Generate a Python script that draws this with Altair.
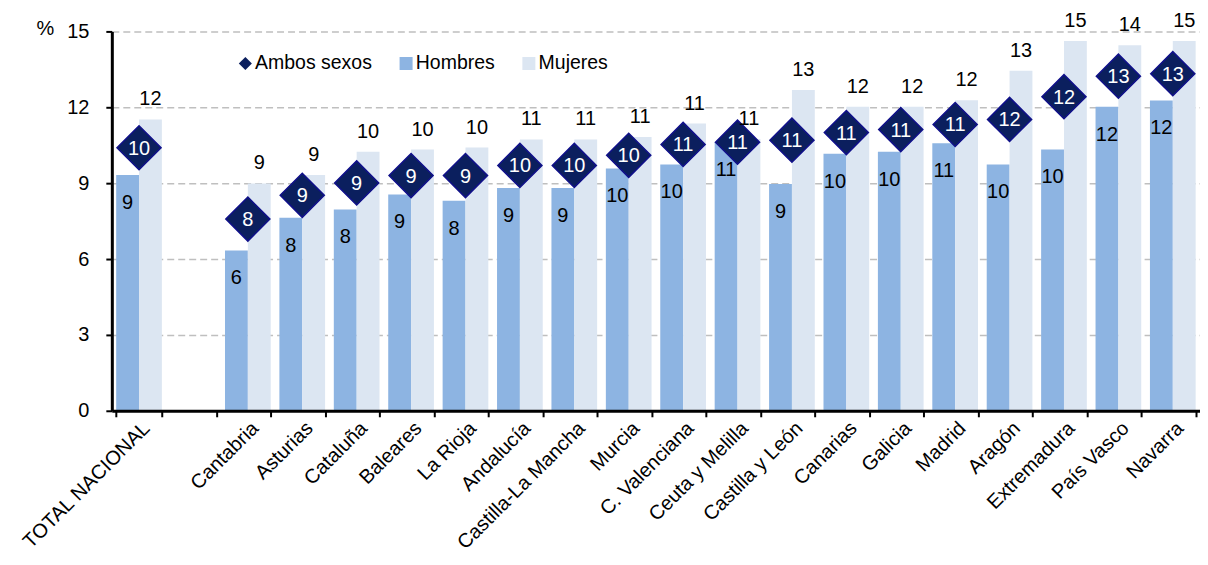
import altair as alt
import pandas as pd

regions = ["TOTAL NACIONAL", "Cantabria", "Asturias", "Cataluña", "Baleares", "La Rioja",
           "Andalucía", "Castilla-La Mancha", "Murcia", "C. Valenciana", "Ceuta y Melilla",
           "Castilla y León", "Canarias", "Galicia", "Madrid", "Aragón", "Extremadura",
           "País Vasco", "Navarra"]
axis_order = [regions[0], " "] + regions[1:]

hombres = [9.32, 6.34, 7.63, 7.96, 8.55, 8.30, 8.81, 8.81, 9.58, 9.74, 10.63, 8.97,
           10.16, 10.24, 10.58, 9.74, 10.33, 12.02, 12.27]
mujeres = [11.52, 8.99, 9.32, 10.24, 10.33, 10.41, 10.73, 10.73, 10.83, 11.36, 10.75, 12.68,
           12.02, 12.02, 12.28, 13.44, 14.62, 14.45, 14.62]
ambos = [10.40, 7.58, 8.52, 9.01, 9.30, 9.30, 9.70, 9.70, 10.10, 10.53, 10.62, 10.70,
         11.00, 11.12, 11.32, 11.52, 12.42, 13.23, 13.33]

series = ["Ambos sexos", "Hombres", "Mujeres"]
series_colors = ["#0B1F5E", "#8DB4E2", "#DCE6F2"]
y_ticks = [0, 3, 6, 9, 12, 15]

bars_df = pd.DataFrame(
    [{"region": r, "series": "Hombres", "value": v} for r, v in zip(regions, hombres)]
    + [{"region": r, "series": "Mujeres", "value": v} for r, v in zip(regions, mujeres)]
)
h_df = bars_df[bars_df.series == "Hombres"]
m_df = bars_df[bars_df.series == "Mujeres"]
a_df = pd.DataFrame({"region": regions, "series": "Ambos sexos", "value": ambos})

FONT = "Liberation Sans"
FS = 20

x_enc = alt.X(
    "region:N",
    sort=axis_order,
    scale=alt.Scale(domain=axis_order, paddingInner=0.16, paddingOuter=0.08),
    axis=alt.Axis(
        title=None, labelAngle=-45, labelFontSize=20, labelColor="black",
        labelPadding=1, domainColor="black", domainWidth=3, tickColor="black",
        tickWidth=2, tickSize=6, tickBand="extent", grid=False,
        labelAlign="right", labelBaseline="top", zindex=2,
    ),
)
xoff = alt.XOffset("series:N", scale=alt.Scale(domain=["Hombres", "Mujeres"]))
y_enc = alt.Y(
    "value:Q",
    stack=None,
    scale=alt.Scale(domain=[0, 15], nice=False),
    axis=alt.Axis(
        values=y_ticks, title="%", titleAngle=0, titleX=-67, titleY=-3,
        titleAlign="center", titleBaseline="middle", titleFontSize=FS,
        titleFontWeight="normal", titleColor="black",
        labelFontSize=FS, labelColor="black", labelPadding=17,
        domainColor="black", domainWidth=3, tickColor="black", tickWidth=2,
        tickSize=6, grid=True, gridColor="#BFBFBF", gridDash=[7, 4], gridWidth=1.5,
    ),
)

legend = alt.Legend(
    title=None, orient="none", legendX=124, legendY=22, direction="horizontal",
    labelFontSize=19.5, labelColor="black", symbolSize=170, columnPadding=24,
    labelOffset=0, padding=0, symbolStrokeWidth=0,
)
color_enc = alt.Color("series:N", scale=alt.Scale(domain=series, range=series_colors), legend=legend)
shape_enc = alt.Shape("series:N", scale=alt.Scale(domain=series, range=["diamond", "square", "square"]), legend=legend)

bars = alt.Chart(bars_df).mark_bar().encode(x=x_enc, xOffset=xoff, y=y_enc, color=color_enc)

diamonds = alt.Chart(a_df).mark_point(
    filled=True, size=1950, stroke="#10108A", strokeWidth=1.5, opacity=1
).encode(x=x_enc, y=y_enc, color=color_enc, shape=shape_enc)

a_text = alt.Chart(a_df).mark_text(fontSize=FS, color="white", dy=1).encode(
    x=x_enc, y=y_enc, text=alt.Text("value:Q", format=".0f"))
h_text = alt.Chart(h_df).mark_text(fontSize=FS, color="black", dy=28).encode(
    x=x_enc, xOffset=xoff, y=y_enc, text=alt.Text("value:Q", format=".0f"))
m_text = alt.Chart(m_df).mark_text(fontSize=FS, color="black", dy=-20).encode(
    x=x_enc, xOffset=xoff, y=y_enc, text=alt.Text("value:Q", format=".0f"))

chart = alt.layer(bars, diamonds, a_text, h_text, m_text).properties(
    width=1090, height=380,
    padding={"left": 104, "top": 23, "right": 0, "bottom": 143},
    autosize=alt.AutoSizeParams(type="none"),
).configure(font=FONT).configure_view(stroke=None)

chart.save("out.html", embed_options={"renderer": "svg", "actions": False})
